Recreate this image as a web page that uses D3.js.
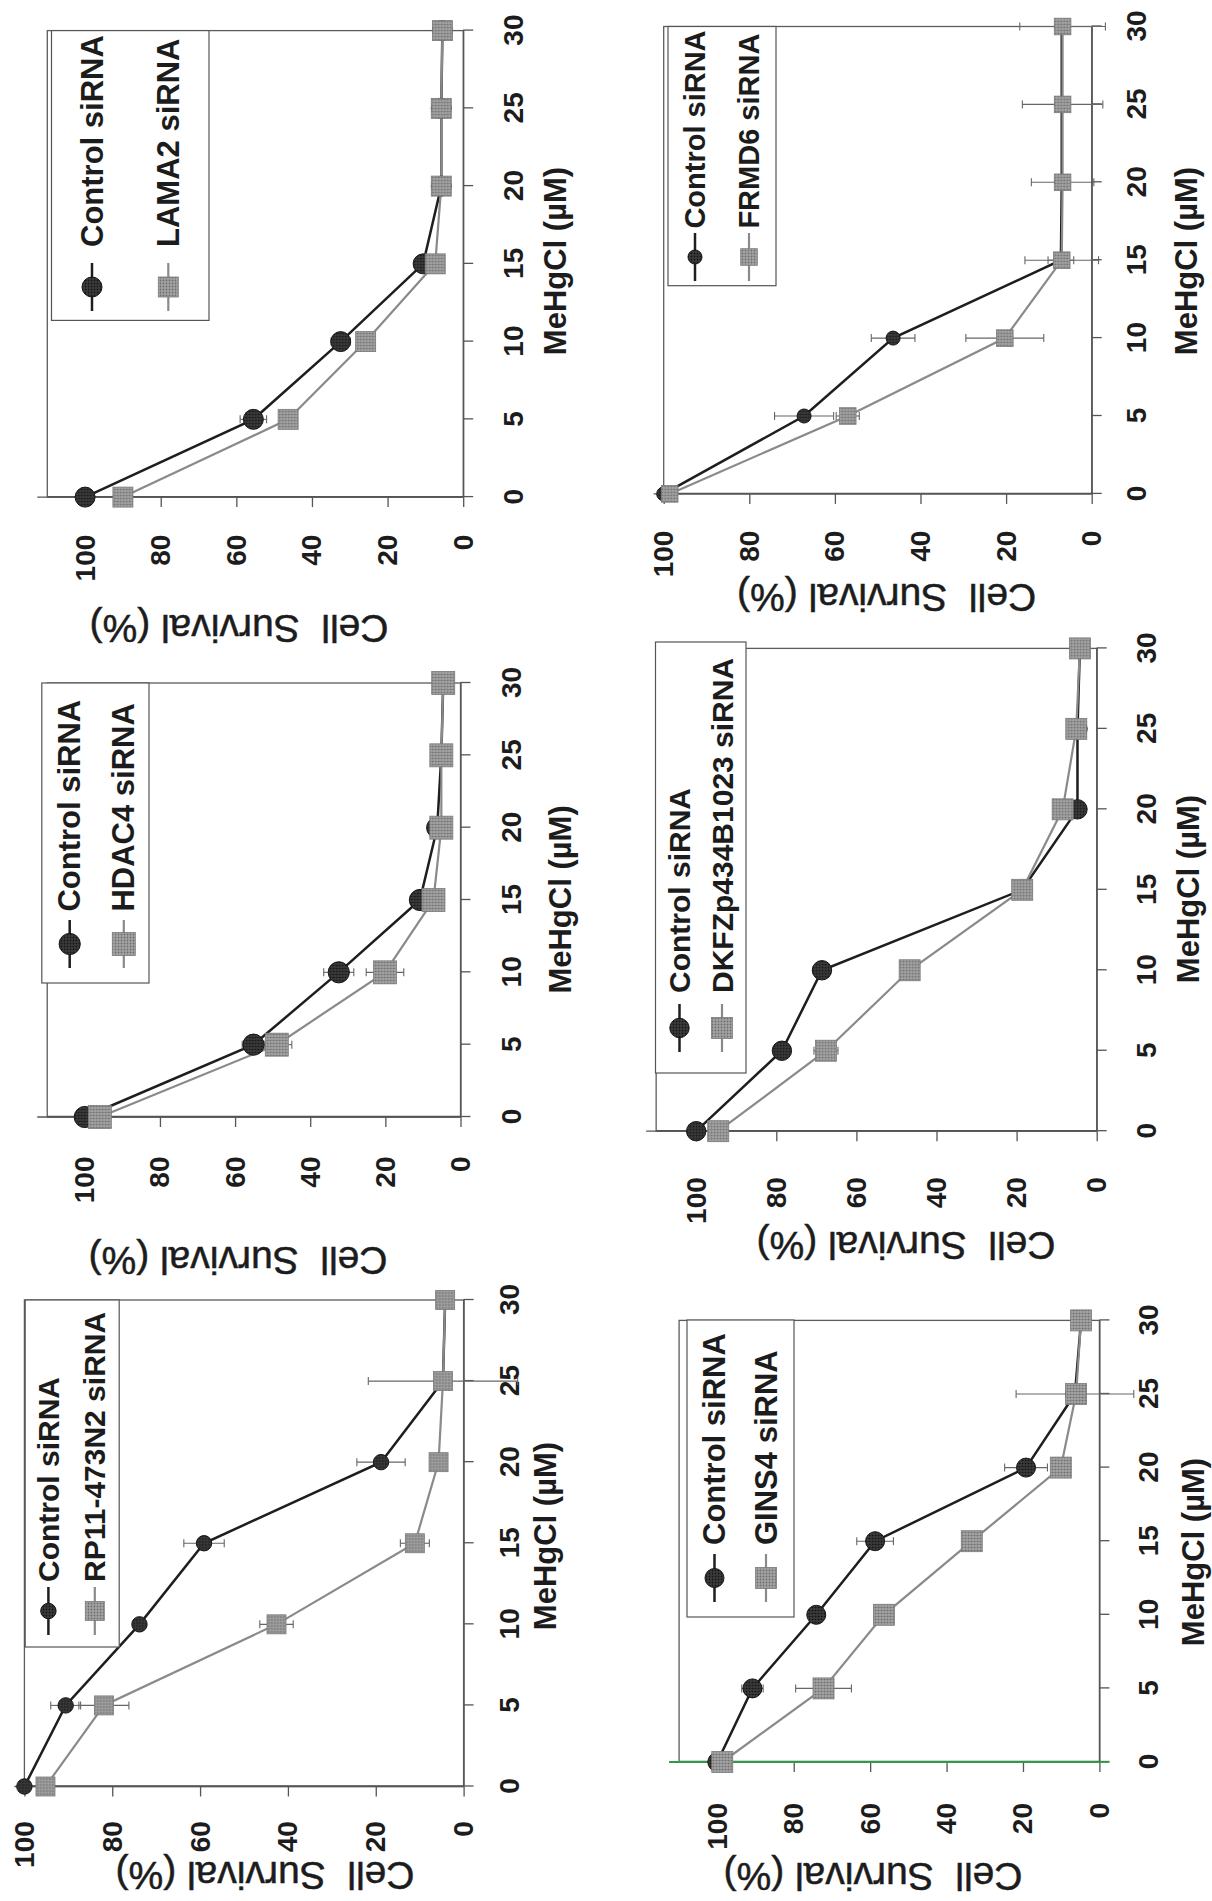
<!DOCTYPE html>
<html>
<head>
<meta charset="utf-8">
<script src="https://cdn.jsdelivr.net/npm/d3@7"></script>
<style>
  body { margin: 0; background: #fff; }
  text { font-family: "Liberation Sans", Arial, sans-serif; fill: #1c1c1c; }
</style>
</head>
<body>
<svg id="chart" width="1212" height="1901"></svg>
<script>
// ---- data ----
const doses = [0, 5, 10, 15, 20, 25, 30];
const survivalTicks = [0, 20, 40, 60, 80, 100];

const lama2Control    = [100, 55.5, 32.4, 10.6, 5.8, 5.8, 5.5];
const lama2ControlErr = [0.5, 3.5, 2.5, 1.5, 0.5, 0.5, 0.5];
const lama2Knock      = [90, 46.3, 25.8, 7.4, 5.8, 5.8, 5.5];
const lama2KnockErr   = [0.5, 1.5, 1.5, 1, 0.5, 0.5, 0.5];

const frmd6Control    = [100, 67.2, 46.4, 7.2, 7, 7, 7];
const frmd6ControlErr = [0, 6.9, 5.1, 3, 0.5, 0.5, 0.5];
const frmd6Knock      = [98.6, 57, 20.3, 7, 6.8, 6.8, 6.8];
const frmd6KnockErr   = [1, 2.7, 9.1, 8.6, 7.3, 9.4, 10];

const hdac4Control    = [100, 55.1, 32.4, 10.8, 6.2, 5.1, 4.6];
const hdac4ControlErr = [0.5, 3, 4, 1.5, 0.5, 0.5, 0.5];
const hdac4Knock      = [96, 48.9, 20.1, 7.2, 5.1, 5.1, 4.6];
const hdac4KnockErr   = [0.5, 4, 5, 1, 0.5, 0.5, 0.5];

const dkfzControl    = [100, 78.6, 68.6, 18.6, 4.8, 4.8, 4.2];
const dkfzControlErr = [0.5, 1.5, 1, 1, 0.5, 0.5, 0.5];
const dkfzKnock      = [94.5, 67.6, 46.7, 18.6, 8.5, 5.1, 4.2];
const dkfzKnockErr   = [0.5, 3, 2, 1, 1, 0.5, 0.5];

const rp11Control    = [100, 90.6, 73.8, 59.1, 18.8, 4.7, 4.2];
const rp11ControlErr = [0, 3.4, 1.5, 4.6, 5.5, 17, 0.5];
const rp11Knock      = [95.2, 81.9, 42.6, 11.1, 5.7, 4.7, 4.2];
const rp11KnockErr   = [0.5, 5.7, 3.8, 3.3, 1, 1, 0.5];

const gins4Control    = [100, 90.8, 74.1, 58.7, 19.2, 6.4, 4.8];
const gins4ControlErr = [0, 2.8, 1, 4.8, 5.6, 15.4, 0.5];
const gins4Knock      = [98.7, 72.2, 56.4, 33.4, 10.1, 6.1, 4.8];
const gins4KnockErr   = [0.5, 7.3, 1, 1, 1, 1, 0.5];

const panels = [
    { name: 'LAMA2 siRNA', control: lama2Control, controlErr: lama2ControlErr, knock: lama2Knock, knockErr: lama2KnockErr },
    { name: 'FRMD6 siRNA', control: frmd6Control, controlErr: frmd6ControlErr, knock: frmd6Knock, knockErr: frmd6KnockErr },
    { name: 'HDAC4 siRNA', control: hdac4Control, controlErr: hdac4ControlErr, knock: hdac4Knock, knockErr: hdac4KnockErr },
    { name: 'DKFZp434B1023 siRNA', control: dkfzControl, controlErr: dkfzControlErr, knock: dkfzKnock, knockErr: dkfzKnockErr },
    { name: 'RP11-473N2 siRNA', control: rp11Control, controlErr: rp11ControlErr, knock: rp11Knock, knockErr: rp11KnockErr },
    { name: 'GINS4 siRNA', control: gins4Control, controlErr: gins4ControlErr, knock: gins4Knock, knockErr: gins4KnockErr }
];

// ---- layout: each scanned chart sits rotated 90deg on the page ----
// v0 / v100: page x of 0 % and 100 %; c0 / c30: page y of dose 0 and 30
const layouts = [
    { v0: 463.2, v100: 85.1, vmax: 110, c0: 497.1, c30: 30.6, catPad: 29.5, valPad: 27.6,
      mehg: [556, 261], surv: [239, 628], legend: [51.5, 30.6, 209, 320.4], rows: [92, 168.3],
      markerY: 287, textY: 247, legendFont: 31, r: 10, sq: 20 },
    { v0: 1091.7, v100: 663.7, vmax: 100, c0: 493.9, c30: 26.5, catPad: 24.3, valPad: 26.7,
      mehg: [1186.5, 261], surv: [886.6, 597], legend: [668, 26.5, 776, 285.7], rows: [695, 749],
      markerY: 257, textY: 228.6, legendFont: 29, r: 7, sq: 16.6 },
    { v0: 460.5, v100: 84.8, vmax: 110, c0: 1117, c30: 683, catPad: 30.3, valPad: 29.5,
      mehg: [561, 899.4], surv: [238, 1260], legend: [41.8, 683, 149, 983], rows: [69.7, 123.8],
      markerY: 944, textY: 911.6, legendFont: 31, r: 10.6, sq: 23 },
    { v0: 1096.7, v100: 696.2, vmax: 110, c0: 1131.2, c30: 648.4, catPad: 29.3, valPad: 36,
      mehg: [1188.4, 889], surv: [906, 1245], legend: [655.5, 642, 746, 1073], rows: [679.5, 722],
      markerY: 1028, textY: 993, legendFont: 30, r: 9.7, sq: 21 },
    { v0: 463.6, v100: 24.4, vmax: 100, c0: 1786.5, c30: 1300, catPad: 25.4, valPad: 24.7,
      mehg: [545.7, 1536], surv: [265, 1875], legend: [25.2, 1300, 119.2, 1647], rows: [48.4, 94.8],
      markerY: 1611, textY: 1582, legendFont: 30, r: 7.7, sq: 19 },
    { v0: 1099.4, v100: 717.3, vmax: 110, c0: 1762, c30: 1320.4, catPad: 28.4, valPad: 31,
      mehg: [1194, 1552], surv: [873, 1876], legend: [687, 1320, 794, 1617], rows: [714.5, 766],
      markerY: 1578, textY: 1545, legendFont: 31, r: 9.5, sq: 21, axisColor: '#2f9a4c' }
];

const svg = d3.select('#chart');
svg.append('rect').attr('width', 1212).attr('height', 1901).attr('fill', '#fff');

// halftone-looking fills for the markers
const defs = svg.append('defs');
const addDots = (id, base, dot) => {
    const pat = defs.append('pattern').attr('id', id)
        .attr('width', 3).attr('height', 3).attr('patternUnits', 'userSpaceOnUse');
    pat.append('rect').attr('width', 3).attr('height', 3).attr('fill', base);
    pat.append('circle').attr('cx', 1.5).attr('cy', 1.5).attr('r', 0.9).attr('fill', dot);
};
addDots('darkDots', '#3c3c3c', '#141414');
addDots('grayDots', '#a4a4a4', '#6c6c6c');

const controlStyle = { line: '#1e1e1e', width: 2.5, fill: 'url(#darkDots)', stroke: '#151515' };
const knockStyle = { line: '#8a8a8a', width: 2.2, fill: 'url(#grayDots)', stroke: '#7a7a7a' };

const drawMarker = (sel, shape, cx, cy, L, style) => {
    if (shape === 'circle') {
        sel.append('circle').attr('cx', cx).attr('cy', cy).attr('r', L.r)
            .attr('fill', style.fill).attr('stroke', style.stroke).attr('stroke-width', 1);
    } else {
        sel.append('rect').attr('x', cx - L.sq / 2).attr('y', cy - L.sq / 2)
            .attr('width', L.sq).attr('height', L.sq)
            .attr('fill', style.fill).attr('stroke', style.stroke).attr('stroke-width', 0.8);
    }
};

const drawPanel = (p, L) => {
    const vmaxX = L.v0 - (L.v0 - L.v100) * L.vmax / 100;
    const W = L.c0 - L.c30;
    const H = L.v0 - vmaxX;
    const x = d3.scaleLinear().domain([0, 30]).range([0, W]);
    const y = d3.scaleLinear().domain([0, L.vmax]).range([H, 0]);

    // chart drawn upright, then turned a quarter left like the scan
    const g = svg.append('g').attr('transform', `translate(${vmaxX},${L.c0}) rotate(-90)`);

    // plot frame
    g.append('rect').attr('width', W).attr('height', H)
        .attr('fill', 'none').attr('stroke', '#5c5c5c').attr('stroke-width', 1.3);

    // dose axis
    const xAxis = g.append('g').attr('transform', `translate(0,${H})`)
        .call(d3.axisBottom(x).tickValues(doses).tickSize(10).tickSizeOuter(0).tickPadding(L.catPad));
    // survival axis
    const yAxis = g.append('g')
        .call(d3.axisLeft(y).tickValues(survivalTicks).tickSize(10).tickSizeOuter(0).tickPadding(L.valPad));
    [xAxis, yAxis].forEach(a => {
        a.selectAll('path, line').attr('stroke', '#555').attr('stroke-width', 1.3);
        a.selectAll('text').attr('font-size', 28).attr('font-weight', 'bold').attr('fill', '#222');
    });
    // axis line runs a little past the frame
    g.append('line').attr('x1', 0).attr('x2', 0).attr('y1', -10).attr('y2', H)
        .attr('stroke', L.axisColor || '#555').attr('stroke-width', L.axisColor ? 1.8 : 1.3);
    if (L.axisColor) {
        g.append('line').attr('x1', 0).attr('x2', 0).attr('y1', H).attr('y2', H + 10)
            .attr('stroke', L.axisColor).attr('stroke-width', 1.8);
    }

    // axis titles (given in page coordinates, mapped back into the turned frame)
    g.append('text')
        .attr('x', L.c0 - L.mehg[1]).attr('y', L.mehg[0] - vmaxX)
        .attr('text-anchor', 'middle').attr('dominant-baseline', 'central')
        .attr('font-size', 31).attr('font-weight', 'bold').attr('fill', '#222')
        .text('MeHgCl (µM)');
    g.append('text')
        .attr('transform', `translate(${L.c0 - L.surv[1]},${L.surv[0] - vmaxX}) rotate(-90)`)
        .attr('text-anchor', 'middle').attr('dominant-baseline', 'central')
        .attr('font-size', 39).style('white-space', 'pre')
        .attr('stroke', '#1c1c1c').attr('stroke-width', 0.5)
        .text('Cell  Survival (%)');

    const line = d3.line().x((d, i) => x(doses[i])).y(d => y(d));
    const series = [
        { values: p.control, err: p.controlErr, style: controlStyle, shape: 'circle' },
        { values: p.knock, err: p.knockErr, style: knockStyle, shape: 'square' }
    ];

    series.forEach(s => {
        g.append('path').attr('d', line(s.values)).attr('fill', 'none')
            .attr('stroke', s.style.line).attr('stroke-width', s.style.width);
    });

    // error bars
    series.forEach(s => {
        s.values.forEach((v, i) => {
            const e = s.err[i];
            if (!e) return;
            const cx = x(doses[i]);
            const eg = g.append('g').attr('stroke', '#666').attr('stroke-width', 1.1);
            eg.append('line').attr('x1', cx).attr('x2', cx).attr('y1', y(v - e)).attr('y2', y(v + e));
            [v - e, v + e].forEach(t => {
                eg.append('line').attr('x1', cx - 4).attr('x2', cx + 4).attr('y1', y(t)).attr('y2', y(t));
            });
        });
    });

    // markers, knock-down drawn last as in the scan
    series.forEach(s => {
        s.values.forEach((v, i) => drawMarker(g, s.shape, x(doses[i]), y(v), L, s.style));
    });

    // legend, drawn in page coordinates
    const lg = svg.append('g');
    const [bx0, by0, bx1, by1] = L.legend;
    lg.append('rect').attr('x', bx0).attr('y', by0).attr('width', bx1 - bx0).attr('height', by1 - by0)
        .attr('fill', '#fff').attr('stroke', '#555').attr('stroke-width', 1.2);
    const labels = ['Control siRNA', p.name];
    series.forEach((s, k) => {
        const rx = L.rows[k];
        lg.append('line').attr('x1', rx).attr('x2', rx)
            .attr('y1', L.markerY - 24).attr('y2', L.markerY + 24)
            .attr('stroke', s.style.line).attr('stroke-width', s.style.width);
        drawMarker(lg, s.shape, rx, L.markerY, L, s.style);
        lg.append('text')
            .attr('transform', `translate(${rx},${L.textY}) rotate(-90)`)
            .attr('dominant-baseline', 'central')
            .attr('font-size', L.legendFont).attr('font-weight', 'bold').attr('fill', '#222')
            .text(labels[k]);
    });
};

panels.forEach((p, i) => drawPanel(p, layouts[i]));
</script>
</body>
</html>
